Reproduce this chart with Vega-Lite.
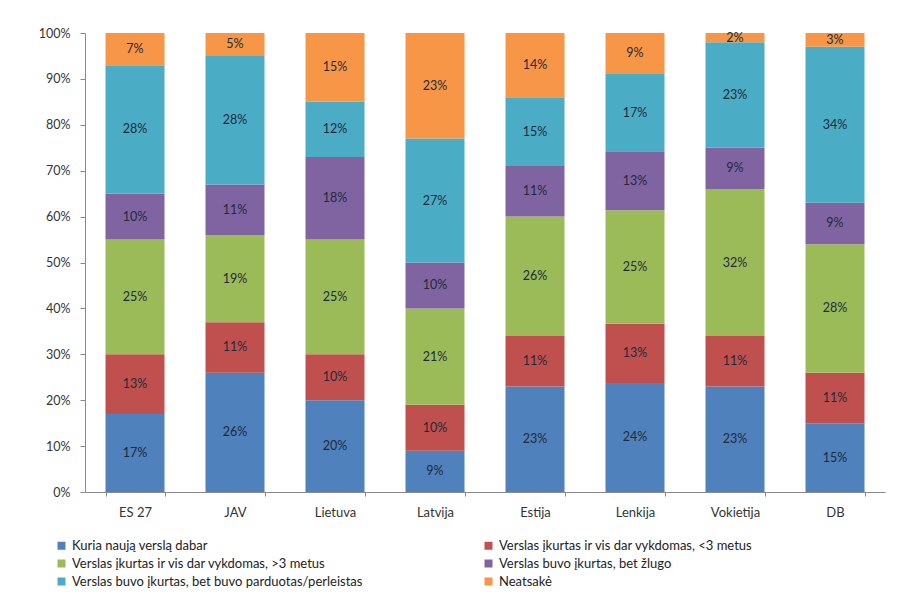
{
  "$schema": "https://vega.github.io/schema/vega-lite/v6.json",
  "autosize": "none",
  "width": 800,
  "height": 459,
  "padding": {"left": 85, "top": 33, "right": 12, "bottom": 111},
  "background": "white",
  "config": {
    "font": "Lato",
    "view": {"stroke": null},
    "axis": {"labelFont": "Lato", "labelColor": "#333", "labelFontSize": 12.5, "domainColor": "#8a8a8a", "tickColor": "#8a8a8a", "grid": false, "title": null}
  },
  "data": {
    "values": [
      {"c": "ES 27", "k": 1, "s": "Kuria naują verslą dabar", "v": 0.17},
      {"c": "ES 27", "k": 2, "s": "Verslas  įkurtas ir  vis dar vykdomas, <3 metus", "v": 0.13},
      {"c": "ES 27", "k": 3, "s": "Verslas  įkurtas ir  vis dar vykdomas, >3 metus", "v": 0.25},
      {"c": "ES 27", "k": 4, "s": "Verslas buvo įkurtas, bet žlugo", "v": 0.10},
      {"c": "ES 27", "k": 5, "s": "Verslas buvo įkurtas, bet buvo parduotas/perleistas", "v": 0.28},
      {"c": "ES 27", "k": 6, "s": "Neatsakė", "v": 0.07},
      {"c": "JAV", "k": 1, "s": "Kuria naują verslą dabar", "v": 0.26},
      {"c": "JAV", "k": 2, "s": "Verslas  įkurtas ir  vis dar vykdomas, <3 metus", "v": 0.11},
      {"c": "JAV", "k": 3, "s": "Verslas  įkurtas ir  vis dar vykdomas, >3 metus", "v": 0.19},
      {"c": "JAV", "k": 4, "s": "Verslas buvo įkurtas, bet žlugo", "v": 0.11},
      {"c": "JAV", "k": 5, "s": "Verslas buvo įkurtas, bet buvo parduotas/perleistas", "v": 0.28},
      {"c": "JAV", "k": 6, "s": "Neatsakė", "v": 0.05},
      {"c": "Lietuva", "k": 1, "s": "Kuria naują verslą dabar", "v": 0.20},
      {"c": "Lietuva", "k": 2, "s": "Verslas  įkurtas ir  vis dar vykdomas, <3 metus", "v": 0.10},
      {"c": "Lietuva", "k": 3, "s": "Verslas  įkurtas ir  vis dar vykdomas, >3 metus", "v": 0.25},
      {"c": "Lietuva", "k": 4, "s": "Verslas buvo įkurtas, bet žlugo", "v": 0.18},
      {"c": "Lietuva", "k": 5, "s": "Verslas buvo įkurtas, bet buvo parduotas/perleistas", "v": 0.12},
      {"c": "Lietuva", "k": 6, "s": "Neatsakė", "v": 0.15},
      {"c": "Latvija", "k": 1, "s": "Kuria naują verslą dabar", "v": 0.09},
      {"c": "Latvija", "k": 2, "s": "Verslas  įkurtas ir  vis dar vykdomas, <3 metus", "v": 0.10},
      {"c": "Latvija", "k": 3, "s": "Verslas  įkurtas ir  vis dar vykdomas, >3 metus", "v": 0.21},
      {"c": "Latvija", "k": 4, "s": "Verslas buvo įkurtas, bet žlugo", "v": 0.10},
      {"c": "Latvija", "k": 5, "s": "Verslas buvo įkurtas, bet buvo parduotas/perleistas", "v": 0.27},
      {"c": "Latvija", "k": 6, "s": "Neatsakė", "v": 0.23},
      {"c": "Estija", "k": 1, "s": "Kuria naują verslą dabar", "v": 0.23},
      {"c": "Estija", "k": 2, "s": "Verslas  įkurtas ir  vis dar vykdomas, <3 metus", "v": 0.11},
      {"c": "Estija", "k": 3, "s": "Verslas  įkurtas ir  vis dar vykdomas, >3 metus", "v": 0.26},
      {"c": "Estija", "k": 4, "s": "Verslas buvo įkurtas, bet žlugo", "v": 0.11},
      {"c": "Estija", "k": 5, "s": "Verslas buvo įkurtas, bet buvo parduotas/perleistas", "v": 0.15},
      {"c": "Estija", "k": 6, "s": "Neatsakė", "v": 0.14},
      {"c": "Lenkija", "k": 1, "s": "Kuria naują verslą dabar", "v": 0.24},
      {"c": "Lenkija", "k": 2, "s": "Verslas  įkurtas ir  vis dar vykdomas, <3 metus", "v": 0.13},
      {"c": "Lenkija", "k": 3, "s": "Verslas  įkurtas ir  vis dar vykdomas, >3 metus", "v": 0.25},
      {"c": "Lenkija", "k": 4, "s": "Verslas buvo įkurtas, bet žlugo", "v": 0.13},
      {"c": "Lenkija", "k": 5, "s": "Verslas buvo įkurtas, bet buvo parduotas/perleistas", "v": 0.17},
      {"c": "Lenkija", "k": 6, "s": "Neatsakė", "v": 0.09},
      {"c": "Vokietija", "k": 1, "s": "Kuria naują verslą dabar", "v": 0.23},
      {"c": "Vokietija", "k": 2, "s": "Verslas  įkurtas ir  vis dar vykdomas, <3 metus", "v": 0.11},
      {"c": "Vokietija", "k": 3, "s": "Verslas  įkurtas ir  vis dar vykdomas, >3 metus", "v": 0.32},
      {"c": "Vokietija", "k": 4, "s": "Verslas buvo įkurtas, bet žlugo", "v": 0.09},
      {"c": "Vokietija", "k": 5, "s": "Verslas buvo įkurtas, bet buvo parduotas/perleistas", "v": 0.23},
      {"c": "Vokietija", "k": 6, "s": "Neatsakė", "v": 0.02},
      {"c": "DB", "k": 1, "s": "Kuria naują verslą dabar", "v": 0.15},
      {"c": "DB", "k": 2, "s": "Verslas  įkurtas ir  vis dar vykdomas, <3 metus", "v": 0.11},
      {"c": "DB", "k": 3, "s": "Verslas  įkurtas ir  vis dar vykdomas, >3 metus", "v": 0.28},
      {"c": "DB", "k": 4, "s": "Verslas buvo įkurtas, bet žlugo", "v": 0.09},
      {"c": "DB", "k": 5, "s": "Verslas buvo įkurtas, bet buvo parduotas/perleistas", "v": 0.34},
      {"c": "DB", "k": 6, "s": "Neatsakė", "v": 0.03}
    ]
  },
  "encoding": {
    "x": {
      "field": "c", "type": "nominal", "sort": null,
      "scale": {"paddingInner": 0.41, "paddingOuter": 0.205},
      "axis": {"labelAngle": 0, "tickBand": "extent", "tickSize": 4, "labelPadding": 10, "labelFontSize": 13}
    },
    "y": {
      "field": "v", "type": "quantitative", "stack": "normalize",
      "scale": {"domain": [0, 1], "nice": false},
      "axis": {"format": ".0%", "values": [0, 0.1, 0.2, 0.3, 0.4, 0.5, 0.6, 0.7, 0.8, 0.9, 1], "tickSize": 5, "labelPadding": 10}
    },
    "order": {"field": "k", "type": "quantitative"}
  },
  "layer": [
    {
      "mark": {"type": "bar"},
      "encoding": {
        "color": {
          "field": "s", "type": "nominal",
          "sort": ["Kuria naują verslą dabar", "Verslas  įkurtas ir  vis dar vykdomas, <3 metus", "Verslas  įkurtas ir  vis dar vykdomas, >3 metus", "Verslas buvo įkurtas, bet žlugo", "Verslas buvo įkurtas, bet buvo parduotas/perleistas", "Neatsakė"],
          "scale": {
            "domain": ["Kuria naują verslą dabar", "Verslas  įkurtas ir  vis dar vykdomas, <3 metus", "Verslas  įkurtas ir  vis dar vykdomas, >3 metus", "Verslas buvo įkurtas, bet žlugo", "Verslas buvo įkurtas, bet buvo parduotas/perleistas", "Neatsakė"],
            "range": ["#4F81BD", "#C0504D", "#9BBB59", "#8064A2", "#4BACC6", "#F79646"]
          },
          "legend": {
            "title": null, "orient": "none", "direction": "horizontal", "columns": 2,
            "legendX": -30, "legendY": 506,
            "symbolType": "square", "symbolSize": 64, "symbolStrokeWidth": 0,
            "labelFont": "Lato", "labelFontSize": 13, "labelColor": "#222", "labelLimit": 400,
            "rowPadding": 4, "columnPadding": 119
          }
        }
      }
    },
    {
      "mark": {"type": "text", "fontSize": 12.5, "color": "#1e2a3a", "baseline": "middle"},
      "encoding": {
        "y": {"field": "v", "type": "quantitative", "stack": "normalize", "bandPosition": 0.5},
        "text": {"field": "v", "type": "quantitative", "format": ".0%"}
      }
    }
  ]
}
